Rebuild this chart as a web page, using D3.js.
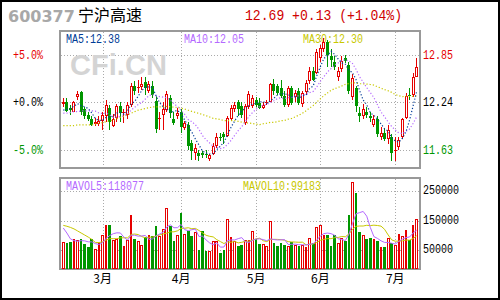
<!DOCTYPE html>
<html>
<head>
<meta charset="utf-8">
<script src="https://cdn.jsdelivr.net/npm/d3@7"></script>
<style>
body{margin:0;background:#fff}
svg{display:block}
</style>
</head>
<body>
<div id="chart"></div>
<script>
// daily bars, late Feb .. mid Jul
var open = [12.22,12.25,12.17,12.12,12.31,12.37,12.15,12.08,12.03,11.96,
  11.96,12.00,12.06,12.17,11.93,12.04,12.19,12.10,12.08,12.21,
  12.45,12.42,12.44,12.50,12.39,12.45,12.26,12.02,12.08,12.14,
  12.30,12.02,12.07,12.12,11.91,11.95,11.72,11.59,11.59,11.59,
  11.57,11.51,11.58,11.68,11.80,11.83,11.81,12.02,12.15,12.25,
  12.19,11.98,12.18,12.19,12.27,12.23,12.17,12.23,12.25,12.48,
  12.45,12.42,12.32,12.21,12.42,12.31,12.38,12.22,12.37,12.51,
  12.64,12.62,12.81,12.92,13.02,12.83,12.76,12.56,12.67,12.81,
  12.72,12.31,12.42,12.10,12.07,12.12,12.06,11.95,12.03,11.80,
  11.84,11.77,11.79,11.62,11.66,11.80,12.04,12.34,12.33,12.57];
var close = [12.25,12.13,12.14,12.24,12.35,12.12,12.06,12.03,11.95,11.99,
  12.00,12.08,12.21,11.99,12.03,12.19,12.10,12.12,12.21,12.45,
  12.38,12.44,12.48,12.42,12.47,12.34,11.90,12.04,12.15,12.35,
  12.10,11.98,12.10,11.92,11.97,11.68,11.62,11.65,11.55,11.56,
  11.56,11.56,11.68,11.80,11.79,11.80,12.04,12.17,12.20,12.16,
  12.08,12.19,12.35,12.30,12.21,12.17,12.21,12.24,12.47,12.38,
  12.36,12.32,12.21,12.43,12.23,12.36,12.23,12.36,12.49,12.64,
  12.53,12.88,12.94,13.02,12.85,12.78,12.69,12.64,12.77,12.77,
  12.38,12.55,12.19,12.06,12.16,12.08,12.04,12.02,11.83,11.84,
  11.77,11.89,11.59,11.63,11.76,12.02,12.32,12.32,12.56,12.69];
var high = [12.30,12.30,12.21,12.26,12.38,12.38,12.18,12.11,12.06,12.04,
  12.06,12.12,12.27,12.21,12.09,12.22,12.25,12.15,12.24,12.49,
  12.51,12.53,12.57,12.56,12.51,12.51,12.32,12.11,12.25,12.39,
  12.33,12.11,12.17,12.15,12.00,11.99,11.76,11.71,11.63,11.62,
  11.63,11.57,11.72,11.85,11.84,11.86,12.07,12.20,12.24,12.27,
  12.24,12.22,12.38,12.33,12.31,12.29,12.25,12.27,12.49,12.54,
  12.48,12.53,12.38,12.45,12.45,12.40,12.43,12.39,12.53,12.69,
  12.69,12.92,12.98,13.07,13.04,12.92,12.83,12.69,12.83,12.85,
  12.76,12.60,12.45,12.18,12.22,12.18,12.11,12.08,12.06,11.92,
  11.90,11.95,11.83,11.79,11.80,12.04,12.36,12.43,12.62,12.81];
var low = [12.18,12.11,12.08,12.11,12.27,12.08,12.03,12.00,11.93,11.94,
  11.93,11.89,11.99,11.88,11.92,11.99,11.99,11.98,12.02,12.18,
  12.33,12.36,12.40,12.34,12.36,12.29,11.84,11.88,11.88,12.11,
  12.04,11.95,12.02,11.85,11.89,11.63,11.50,11.50,11.49,11.53,
  11.53,11.49,11.56,11.65,11.74,11.70,11.79,12.00,12.12,12.07,
  12.04,11.95,12.16,12.17,12.18,12.15,12.15,12.20,12.24,12.34,
  12.33,12.29,12.18,12.18,12.20,12.25,12.21,12.18,12.34,12.48,
  12.51,12.60,12.76,12.88,12.69,12.69,12.66,12.51,12.63,12.74,
  12.35,12.27,12.12,11.99,12.02,12.04,11.99,11.92,11.79,11.75,
  11.74,11.71,11.49,11.49,11.63,11.77,12.02,12.27,12.31,12.56];
var volume = [77000,74000,77000,88000,83000,88000,70000,60000,88000,53000,
  73000,100000,135000,135000,85000,88000,97000,63000,85000,169000,
  88000,81000,67000,93000,101000,98000,132000,99000,122000,193000,
  133000,82000,101000,176000,105000,116000,98000,111000,50000,114000,
  48000,48000,81000,81000,41000,50000,156000,94000,80000,64000,
  67000,84000,84000,115000,87000,71000,71000,64000,148000,74000,
  64000,74000,67000,65000,77000,67000,64000,67000,60000,91000,
  74000,128000,135000,101000,101000,64000,101000,74000,91000,81000,
  169000,282000,244000,111000,101000,88000,91000,88000,80000,60000,
  60000,91000,74000,67000,105000,98000,118000,84000,135000,154000];

// moving averages before enough bars exist
var ma5Lead = [12.14,12.15,12.16,12.19];
var ma10Lead = [12.10,12.10,12.11,12.12,12.12,12.13,12.13,12.13,12.13];
var ma30Lead = [11.94,11.94,11.94,11.94,11.95,11.95,11.95,11.95,11.95,11.96,
  11.97,11.98,11.99,12.00,12.01,12.03,12.05,12.06,12.08,12.10,
  12.12,12.14,12.15,12.16,12.17,12.18,12.18,12.18,12.18];
var mavol5Lead = [125000,108000,88000,82000];
var mavol10Lead = [134000,131000,127000,122000,115000,108000,101000,94000,86000];

var monthNames = ["3月","4月","5月","6月","7月"];
var monthStart = [11,33,54,72,93];

var priceTicks = [12.85, 12.24, 11.63];
var pctLabels = ["+5.0%", "+0.0%", "-5.0%"];
var volTicks = [250000, 150000, 50000];

var maNames = ["MA5:12.38", "MA10:12.05", "MA30:12.30"];
var volMaNames = ["MAVOL5:118077", "MAVOL10:99183"];
var stockCode = "600377", stockName = "宁沪高速", quote = "12.69 +0.13 (+1.04%)";

var RED = "#e60000", GREEN = "#009600", BLACK = "#000";
var n = close.length;

var svg = d3.select("#chart").append("svg")
  .attr("width", 500).attr("height", 300);

svg.append("rect").attr("x", 1).attr("y", 1).attr("width", 498).attr("height", 298)
  .attr("fill", "#fff").attr("stroke", "#000").attr("stroke-width", 2);

// scales
var xb = d3.scaleBand().domain(d3.range(n)).range([61.5, 418.5]);
function cx(i) { return xb(i) + xb.bandwidth() / 2; }
var y = d3.scaleLinear().domain([11.63, 12.85]).range([149.8, 54.8]);
var yv = d3.scaleLinear().domain([0, 250000]).range([264.7, 191.3]);

var main = {x0: 60, x1: 420, y0: 31, y1: 168};
var vol = {x0: 60, x1: 420, y0: 178, y1: 269};

function movingAvg(arr, k, lead) {
  return arr.map(function(v, i) {
    return i < k - 1 ? lead[i] : d3.mean(arr.slice(i - k + 1, i + 1));
  });
}
var ma5 = movingAvg(close, 5, ma5Lead),
    ma10 = movingAvg(close, 10, ma10Lead),
    ma30 = movingAvg(close, 30, ma30Lead),
    mv5 = movingAvg(volume, 5, mavol5Lead),
    mv10 = movingAvg(volume, 10, mavol10Lead);

// header
svg.append("text").attr("x", 8).attr("y", 22).text(stockCode)
  .attr("font-family", "DejaVu Sans").attr("font-weight", "bold")
  .attr("font-size", 16).attr("fill", "#a8a8a8");
svg.append("text").attr("x", 78).attr("y", 21).text(stockName)
  .attr("font-family", "Noto Sans CJK SC").attr("font-size", 16).attr("fill", BLACK);
svg.append("text").attr("x", 245).attr("y", 20).text(quote)
  .attr("font-family", "Liberation Mono").attr("font-size", 15).attr("fill", "#d00000")
  .attr("textLength", 157).attr("lengthAdjust", "spacingAndGlyphs");

function monoText(g, x, yy, s, col, anchor) {
  return g.append("text").attr("x", x).attr("y", yy).text(s)
    .attr("font-family", "Liberation Mono").attr("font-size", 12)
    .attr("fill", col).attr("text-anchor", anchor || "start")
    .attr("textLength", s.length * 6).attr("lengthAdjust", "spacingAndGlyphs");
}

// panels and grid
[main, vol].forEach(function(p) {
  svg.append("rect").attr("x", p.x0).attr("y", p.y0)
    .attr("width", p.x1 - p.x0).attr("height", p.y1 - p.y0)
    .attr("fill", "#fff").attr("stroke", "#999").attr("stroke-width", 2);
  svg.append("g").selectAll("line").data(monthStart).enter().append("line")
    .attr("x1", function(d) { return Math.round(cx(d)) + 0.5; })
    .attr("x2", function(d) { return Math.round(cx(d)) + 0.5; })
    .attr("y1", p.y0 + 1).attr("y2", p.y1 - 1)
    .attr("stroke", "#aaa").attr("stroke-dasharray", "1,2");
});
var grid = svg.append("g").attr("stroke", "#aaa").attr("stroke-dasharray", "1,2");
priceTicks.forEach(function(t) {
  var yy = Math.round(y(t)) + 0.5;
  grid.append("line").attr("x1", main.x0 + 1).attr("x2", main.x1 - 1).attr("y1", yy).attr("y2", yy);
});
volTicks.forEach(function(t) {
  var yy = Math.round(yv(t)) + 0.5;
  grid.append("line").attr("x1", vol.x0 + 1).attr("x2", vol.x1 - 1).attr("y1", yy).attr("y2", yy);
});

// axis labels
var tickCol = [RED, BLACK, GREEN];
priceTicks.forEach(function(t, i) {
  monoText(svg, 13, y(t) + 4, pctLabels[i], tickCol[i]);
  monoText(svg, 423, y(t) + 4, t.toFixed(2), tickCol[i]);
});
volTicks.forEach(function(t) {
  monoText(svg, 423, yv(t) + 3, String(t), BLACK);
});
monthNames.forEach(function(m, i) {
  svg.append("text").attr("x", cx(monthStart[i])).attr("y", 283).text(m)
    .attr("text-anchor", "middle").attr("font-family", "Noto Sans CJK SC")
    .attr("font-size", 12).attr("fill", BLACK);
});

// watermark
svg.append("text").attr("x", 70).attr("y", 75).text("CFi.CN")
  .attr("font-family", "Liberation Sans").attr("font-weight", "bold")
  .attr("font-size", 29).attr("fill", "#d4d4d4")
  .attr("textLength", 97).attr("lengthAdjust", "spacingAndGlyphs");

// legends
var maCol = ["#003c96", "#b469ff", "#c8c800"];
monoText(svg, 66, 43, maNames[0], maCol[0]);
monoText(svg, 184, 43, maNames[1], maCol[1]);
monoText(svg, 303, 43, maNames[2], maCol[2]);
monoText(svg, 66, 189.5, volMaNames[0], maCol[1]);
monoText(svg, 243, 189.5, volMaNames[1], maCol[2]);

// candles
var cg = svg.append("g").attr("shape-rendering", "crispEdges");
d3.range(n).forEach(function(i) {
  var up = close[i] >= open[i];
  var left = Math.round(cx(i) - 1.5);
  var wx = left + 1.5;
  var top = Math.round(y(Math.max(open[i], close[i])));
  var bot = Math.round(y(Math.min(open[i], close[i])));
  var hi = Math.round(y(high[i])), lo = Math.round(y(low[i]));
  if (up) {
    cg.append("line").attr("x1", wx).attr("x2", wx).attr("y1", hi).attr("y2", top)
      .attr("stroke", RED);
    cg.append("line").attr("x1", wx).attr("x2", wx).attr("y1", bot).attr("y2", lo)
      .attr("stroke", RED);
    if (bot - top < 2) {
      cg.append("rect").attr("x", left).attr("y", top).attr("width", 3)
        .attr("height", Math.max(bot - top, 1)).attr("fill", RED);
    } else {
      cg.append("rect").attr("x", left + 0.5).attr("y", top + 0.5)
        .attr("width", 2).attr("height", bot - top - 1)
        .attr("fill", "#fff").attr("stroke", RED);
    }
  } else {
    cg.append("line").attr("x1", wx).attr("x2", wx).attr("y1", hi).attr("y2", lo)
      .attr("stroke", GREEN);
    cg.append("rect").attr("x", left).attr("y", top).attr("width", 3)
      .attr("height", Math.max(bot - top, 1)).attr("fill", GREEN);
  }
});

// price moving averages
var clipMain = svg.append("clipPath").attr("id", "clipMain").append("rect")
  .attr("x", main.x0 + 1).attr("y", main.y0 + 1)
  .attr("width", main.x1 - main.x0 - 2).attr("height", main.y1 - main.y0 - 2);
var line = d3.line().x(function(d, i) { return cx(i); }).y(function(d) { return y(d); });
[ma30, ma10, ma5].forEach(function(s, k) {
  svg.append("path").datum(s).attr("d", line).attr("fill", "none")
    .attr("clip-path", "url(#clipMain)")
    .attr("stroke", [maCol[2], maCol[1], maCol[0]][k])
    .attr("stroke-width", 1.2).attr("stroke-dasharray", "1.2,2");
});

// volume bars
var vg = svg.append("g").attr("shape-rendering", "crispEdges");
var vBase = 268;
d3.range(n).forEach(function(i) {
  var up = close[i] >= open[i];
  var x0 = Math.round(cx(i) - 1.35), x1 = Math.round(cx(i) + 1.35);
  var w = Math.max(x1 - x0, 2);
  var top = Math.round(yv(volume[i]));
  if (up) {
    vg.append("rect").attr("x", x0 + 0.5).attr("y", top + 0.5)
      .attr("width", w - 1).attr("height", vBase - top)
      .attr("fill", "#fff").attr("stroke", RED);
  } else {
    vg.append("rect").attr("x", x0).attr("y", top)
      .attr("width", w).attr("height", vBase - top + 1).attr("fill", GREEN);
  }
});

// volume moving averages
var vline = d3.line().x(function(d, i) { return cx(i); }).y(function(d) { return yv(d); });
[mv10, mv5].forEach(function(s, k) {
  svg.append("path").datum(s).attr("d", vline).attr("fill", "none")
    .attr("stroke", k === 0 ? maCol[2] : maCol[1]).attr("stroke-width", 1);
});
</script>
</body>
</html>
